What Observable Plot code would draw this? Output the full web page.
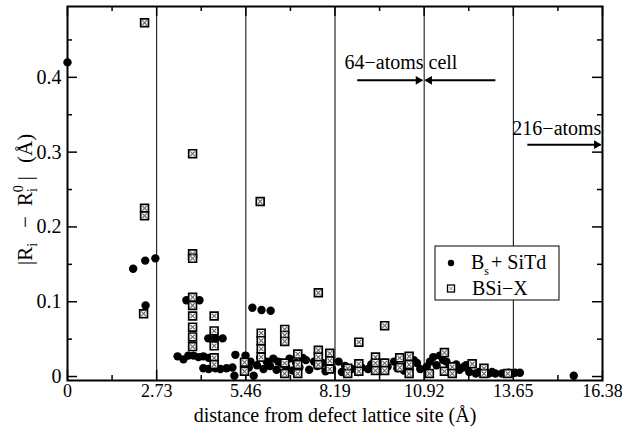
<!DOCTYPE html>
<html><head><meta charset="utf-8">
<script src="https://cdn.jsdelivr.net/npm/d3@7"></script>
<script src="https://cdn.jsdelivr.net/npm/@observablehq/plot@0.6"></script>
<style>body{margin:0;background:#fff} svg{display:block}</style>
</head><body><div id="chart"></div>
<script>
// ---- ticks ----
const xTickValues = [0, 2.73, 5.46, 8.19, 10.92, 13.65, 16.38];
const xTickLabels = ["0", "2.73", "5.46", "8.19", "10.92", "13.65", "16.38"];
const xMinorTicks = [1.365, 4.095, 6.825, 9.555, 12.285, 15.015];
const yTickValues = [0, 0.1, 0.2, 0.3, 0.4];
const yTickLabels = ["0", "0.1", "0.2", "0.3", "0.4"];
const yMinorTicks = [0.05, 0.15, 0.25, 0.35, 0.45];
const cellBoundaries = [2.73, 5.46, 8.19, 10.92, 13.65];

// ---- series: Bs + SiTd (filled circles) ----
const bsX = [0, 2.01, 2.38, 2.69, 2.39, 3.64, 4.04, 4.31, 4.53, 4.75,
  3.37, 3.55, 3.70, 3.86, 4.01, 4.16, 4.32, 4.16, 4.32, 4.53, 4.68, 4.87, 5.05,
  5.14, 5.11, 5.45, 5.66, 5.94, 6.22, 5.70,
  5.60, 5.90, 6.10, 6.30, 6.55, 6.80, 7.00, 7.30, 7.55, 7.80, 8.00, 8.30,
  6.00, 6.40, 6.90, 7.40, 7.90, 8.50, 8.70, 9.00, 9.30, 9.50, 9.80, 10.10,
  10.40, 10.60, 10.80, 11.00, 11.20, 11.40, 11.60, 11.90, 12.10, 12.30,
  12.50, 12.90, 13.10, 13.30, 13.70, 13.85, 15.50,
  5.55, 5.80, 6.20, 6.45, 6.70, 7.10, 7.20, 7.65, 8.10, 8.40, 8.90, 9.20,
  9.60, 10.00, 10.30, 10.70, 11.10, 11.30, 11.50, 11.70, 12.00, 12.20,
  12.60, 13.00, 13.50, 13.60];
const bsY = [0.420, 0.144, 0.155, 0.158, 0.095, 0.102, 0.102, 0.051, 0.051, 0.051,
  0.027, 0.023, 0.028, 0.028, 0.026, 0.027, 0.025, 0.011, 0.010, 0.011, 0.010, 0.011, 0.012,
  0.029, 0.001, 0.028, 0.092, 0.089, 0.088, 0.001,
  0.020, 0.025, 0.020, 0.024, 0.018, 0.024, 0.018, 0.022, 0.020, 0.018, 0.015, 0.020,
  0.010, 0.009, 0.008, 0.009, 0.007, 0.014, 0.010, 0.012, 0.016, 0.008, 0.013, 0.011,
  0.015, 0.022, 0.010, 0.013, 0.026, 0.028, 0.020, 0.016, 0.012, 0.006,
  0.004, 0.004, 0.004, 0.004, 0.005, 0.005, 0.001,
  0.012, 0.015, 0.014, 0.020, 0.012, 0.012, 0.025, 0.014, 0.010, 0.006, 0.006, 0.010,
  0.015, 0.020, 0.008, 0.018, 0.020, 0.015, 0.022, 0.012, 0.009, 0.015,
  0.006, 0.006, 0.005, 0.004];

// ---- series: BSi-X (patterned squares) ----
const bsixX = [2.36, 2.36, 2.36, 2.33, 3.83, 3.83, 3.83, 3.83, 3.83, 3.83, 3.83, 3.83, 3.83,
  4.49, 4.49, 4.49, 4.49, 4.49, 5.42, 5.42, 5.90, 5.93, 5.93, 5.93, 5.93,
  6.65, 6.65, 6.65, 6.65, 6.65, 7.05, 7.05, 7.05, 7.68, 7.68, 7.68, 7.68,
  8.03, 8.03, 8.03, 8.58, 8.58, 8.92, 8.92, 8.92, 9.43, 9.43, 9.43,
  9.71, 9.71, 9.71, 10.17, 10.17, 10.46, 10.46, 10.46, 11.08, 11.54, 11.54,
  11.78, 11.78, 12.39, 12.75, 12.75, 13.48];
const bsixY = [0.473, 0.225, 0.215, 0.084, 0.298, 0.164, 0.158, 0.106, 0.095, 0.081, 0.066, 0.053, 0.040,
  0.081, 0.061, 0.041, 0.025, 0.016, 0.019, 0.007, 0.234, 0.058, 0.048, 0.037, 0.026,
  0.063, 0.055, 0.047, 0.018, 0.004, 0.030, 0.016, 0.004, 0.112, 0.035, 0.026, 0.016,
  0.031, 0.021, 0.010, 0.011, 0.004, 0.046, 0.017, 0.007, 0.026, 0.018, 0.008,
  0.068, 0.018, 0.008, 0.025, 0.012, 0.027, 0.016, 0.004, 0.004, 0.032, 0.007,
  0.013, 0.004, 0.017, 0.011, 0.004, 0.004];

// ---- annotations ----
const noteTexts = ["64\u2212atoms cell", "216\u2212atoms"];
const noteX = [8.48, 13.62];
const noteY = [0.420, 0.332];
const arrowX1 = [8.87, 13.10, 14.08];
const arrowX2 = [10.86, 10.96, 16.32];
const arrowY = [0.396, 0.396, 0.310];

const xLabel = "distance from defect lattice site (\u00C5)";
const legendNames = ["B", "BSi\u2212X"];

const bs = bsX.map((x, i) => ({x, y: bsY[i]}));
const bsix = bsixX.map((x, i) => ({x, y: bsixY[i]}));
const notes = noteTexts.map((t, i) => ({t, x: noteX[i], y: noteY[i]}));
const arrows = arrowX1.map((x1, i) => ({x1, x2: arrowX2[i], y: arrowY[i]}));
const arrowsRight = arrows.filter(d => d.x2 > d.x1);
const arrowsLeft = arrows.filter(d => d.x2 < d.x1);

const FONT = "Liberation Serif";
const FW = 535, FH = 374; // frame size in px (for tick insets)

const chart = Plot.plot({
  width: 622, height: 436,
  marginLeft: 67, marginRight: 20, marginTop: 6, marginBottom: 56,
  style: {fontFamily: FONT, fontSize: "18px", background: "white", color: "black"},
  x: {domain: [0, 16.38]},
  y: {domain: [-0.0053, 0.4947]},
  marks: [
    Plot.ruleX(cellBoundaries, {stroke: "black", strokeWidth: 1}),
    // inside ticks (bottom / top / left / right)
    Plot.ruleX(xTickValues, {insetTop: FH - 10, strokeWidth: 1.5}),
    Plot.ruleX(xMinorTicks, {insetTop: FH - 5, strokeWidth: 1.5}),
    Plot.ruleX(xTickValues, {insetBottom: FH - 10, strokeWidth: 1.5}),
    Plot.ruleX(xMinorTicks, {insetBottom: FH - 5, strokeWidth: 1.5}),
    Plot.ruleY(yTickValues, {insetRight: FW - 10, strokeWidth: 1.5}),
    Plot.ruleY(yMinorTicks, {insetRight: FW - 5, strokeWidth: 1.5}),
    Plot.ruleY(yTickValues, {insetLeft: FW - 10, strokeWidth: 1.5}),
    Plot.ruleY(yMinorTicks, {insetLeft: FW - 5, strokeWidth: 1.5}),
    Plot.axisX({ticks: xTickValues, tickSize: 0, tickPadding: 4, label: null,
      tickFormat: d => xTickLabels[xTickValues.indexOf(d)], fontSize: 18}),
    Plot.axisY({ticks: yTickValues, tickSize: 0, tickPadding: 6, label: null,
      tickFormat: d => yTickLabels[yTickValues.indexOf(d)], fontSize: 20}),
    // data
    Plot.dot(bs, {x: "x", y: "y", r: 4.2, fill: "black", stroke: "none"}),
    Plot.dot(bsix, {x: "x", y: "y", symbol: "square", r: 4.4, fill: "white", stroke: "black", strokeWidth: 1.7}),
    Plot.dot(bsix, {x: "x", y: "y", symbol: "times", r: 2.2, stroke: "#666", strokeWidth: 1.1}),
    // annotations
    Plot.text(notes, {x: "x", y: "y", text: "t", textAnchor: "start", fontSize: 20}),
    Plot.link(arrows, {x1: "x1", x2: "x2", y1: "y", y2: "y", strokeWidth: 2}),
    Plot.dot(arrowsRight, {x: "x2", y: "y", symbol: "triangle", rotate: 90, r: 3.2, fill: "black", dx: -4}),
    Plot.dot(arrowsLeft, {x: "x2", y: "y", symbol: "triangle", rotate: -90, r: 3.2, fill: "black", dx: 4}),
    Plot.text([xLabel], {text: d => d, frameAnchor: "bottom", dy: 41, fontSize: 20}),
    Plot.frame({strokeWidth: 2})
  ]
});
document.getElementById("chart").appendChild(chart);

const svg = d3.select(chart);

// y-axis label with subscripts / superscripts
const yl = svg.append("text")
  .attr("transform", "translate(32,265) rotate(-90)")
  .attr("text-anchor", "start")
  .attr("font-family", FONT).attr("font-size", 21).attr("fill", "black");
yl.append("tspan").text("|R");
yl.append("tspan").attr("dy", 5).attr("font-size", 14).text("i");
yl.append("tspan").attr("dx", 15).attr("dy", -5).text("\u2212");
yl.append("tspan").attr("dx", 10).text("R");
yl.append("tspan").attr("dy", 5).attr("font-size", 14).text("i");
yl.append("tspan").attr("dx", -4).attr("dy", -14).attr("font-size", 14).text("0");
yl.append("tspan").attr("dx", 5).attr("dy", 9).text("|");
yl.append("tspan").attr("dx", 13).text("(\u00C5)");

// legend
const lg = svg.append("g").attr("font-family", FONT).attr("font-size", 20).attr("fill", "black").attr("text-anchor", "start");
lg.append("rect").attr("x", 435).attr("y", 246).attr("width", 124).attr("height", 54)
  .attr("fill", "white").attr("stroke", "black").attr("stroke-width", 1);
lg.append("circle").attr("cx", 451).attr("cy", 263).attr("r", 3.2).attr("fill", "black");
const t1 = lg.append("text").attr("x", 471).attr("y", 269);
t1.append("tspan").text(legendNames[0]);
t1.append("tspan").attr("dy", 6).attr("font-size", 12).text("s");
t1.append("tspan").attr("dx", 2).attr("dy", -6).text("+ SiTd");
lg.append("rect").attr("x", 447.5).attr("y", 285).attr("width", 7).attr("height", 7)
  .attr("fill", "white").attr("stroke", "black").attr("stroke-width", 1.3);
lg.append("path").attr("d", "M449.5,287L452.5,290M452.5,287L449.5,290").attr("stroke", "#666").attr("stroke-width", 0.8);
lg.append("text").attr("x", 472).attr("y", 295).text(legendNames[1]);
</script></body></html>
